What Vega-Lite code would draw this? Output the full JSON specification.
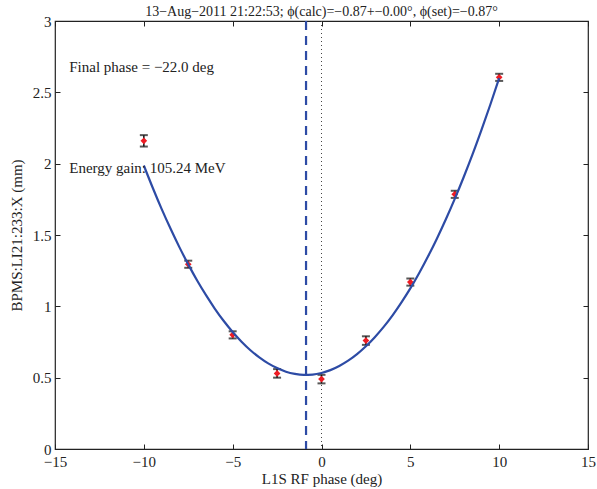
{
  "$schema": "https://vega.github.io/schema/vega-lite/v6.json",
  "width": 533,
  "height": 428,
  "autosize": "none",
  "padding": {"left": 55, "top": 21, "right": 9, "bottom": 40},
  "background": "white",
  "title": {"text": "13−Aug−2011 21:22:53; ϕ(calc)=−0.87+−0.00°, ϕ(set)=−0.87°", "font": "Liberation Serif", "fontSize": 14, "fontWeight": "normal", "color": "#222", "offset": -19, "anchor": "middle", "baseline": "bottom"},
  "config": {
    "view": {"stroke": "#222", "strokeWidth": 1.2},
    "axis": {"grid": false, "domain": false, "tickColor": "#222", "tickSize": -5, "labelFont": "Liberation Serif", "labelFontSize": 15, "labelColor": "#222", "titleFont": "Liberation Serif", "titleFontSize": 15, "titleFontWeight": "normal", "titleColor": "#222"}
  },
  "datasets": {
    "pts": [
      {"phase": -10, "x": 2.16, "lo": 2.12, "hi": 2.2},
      {"phase": -7.5, "x": 1.295, "lo": 1.27, "hi": 1.32},
      {"phase": -5, "x": 0.8, "lo": 0.775, "hi": 0.825},
      {"phase": -2.5, "x": 0.53, "lo": 0.5, "hi": 0.56},
      {"phase": 0, "x": 0.49, "lo": 0.46, "hi": 0.52},
      {"phase": 2.5, "x": 0.76, "lo": 0.73, "hi": 0.79},
      {"phase": 5, "x": 1.17, "lo": 1.145, "hi": 1.195},
      {"phase": 7.5, "x": 1.785, "lo": 1.76, "hi": 1.81},
      {"phase": 10, "x": 2.605, "lo": 2.58, "hi": 2.63}
    ],
    "fit": [
      {"phase": -10, "x": 1.987}, {"phase": -9.5, "x": 1.831}, {"phase": -9, "x": 1.683}, {"phase": -8.5, "x": 1.545},
      {"phase": -8, "x": 1.415}, {"phase": -7.5, "x": 1.294}, {"phase": -7, "x": 1.181}, {"phase": -6.5, "x": 1.078},
      {"phase": -6, "x": 0.983}, {"phase": -5.5, "x": 0.897}, {"phase": -5, "x": 0.82}, {"phase": -4.5, "x": 0.752},
      {"phase": -4, "x": 0.692}, {"phase": -3.5, "x": 0.642}, {"phase": -3, "x": 0.6}, {"phase": -2.5, "x": 0.567},
      {"phase": -2, "x": 0.542}, {"phase": -1.5, "x": 0.527}, {"phase": -1, "x": 0.52}, {"phase": -0.5, "x": 0.522},
      {"phase": 0, "x": 0.533}, {"phase": 0.5, "x": 0.553}, {"phase": 1, "x": 0.582}, {"phase": 1.5, "x": 0.619},
      {"phase": 2, "x": 0.665}, {"phase": 2.5, "x": 0.72}, {"phase": 3, "x": 0.784}, {"phase": 3.5, "x": 0.856},
      {"phase": 4, "x": 0.937}, {"phase": 4.5, "x": 1.028}, {"phase": 5, "x": 1.126}, {"phase": 5.5, "x": 1.234},
      {"phase": 6, "x": 1.351}, {"phase": 6.5, "x": 1.476}, {"phase": 7, "x": 1.61}, {"phase": 7.5, "x": 1.753},
      {"phase": 8, "x": 1.905}, {"phase": 8.5, "x": 2.065}, {"phase": 9, "x": 2.235}, {"phase": 9.5, "x": 2.413},
      {"phase": 10, "x": 2.6}
    ],
    "notes": [
      {"phase": -14.2, "x": 2.68, "label": "Final phase = −22.0 deg"},
      {"phase": -14.2, "x": 1.97, "label": "Energy gain: 105.24 MeV"}
    ]
  },
  "layer": [
    {
      "data": {"name": "pts"},
      "mark": {"type": "point", "opacity": 0},
      "encoding": {
        "x": {"field": "phase", "type": "quantitative", "scale": {"domain": [-15, 15], "nice": false}, "axis": {"orient": "top", "labels": false, "title": null, "values": [-15, -10, -5, 0, 5, 10, 15]}},
        "y": {"field": "x", "type": "quantitative", "scale": {"domain": [0, 3], "nice": false}, "axis": {"orient": "right", "labels": false, "title": null, "values": [0, 0.5, 1, 1.5, 2, 2.5, 3]}}
      }
    },
    {
      "data": {"name": "pts"},
      "mark": {"type": "point", "opacity": 0},
      "encoding": {
        "x": {"field": "phase", "type": "quantitative", "axis": {"orient": "bottom", "title": "L1S RF phase (deg)", "values": [-15, -10, -5, 0, 5, 10, 15], "labelExpr": "replace(toString(datum.value), '-', '−')", "labelPadding": 10, "titlePadding": 2, "labelFlush": false}},
        "y": {"field": "x", "type": "quantitative", "axis": {"orient": "left", "title": "BPMS:LI21:233:X (mm)", "values": [0, 0.5, 1, 1.5, 2, 2.5, 3], "labelExpr": "toString(datum.value)", "labelPadding": 9, "titlePadding": 8, "labelFlush": false}}
      }
    },
    {
      "data": {"values": [{"v": 0}]},
      "mark": {"type": "rule", "color": "#444", "strokeDash": [1, 3], "strokeWidth": 1},
      "encoding": {"x": {"datum": 0, "type": "quantitative", "axis": null}}
    },
    {
      "data": {"values": [{"v": -0.87}]},
      "mark": {"type": "rule", "color": "#2d4ba5", "strokeDash": [9, 6], "strokeWidth": 2.2},
      "encoding": {"x": {"datum": -0.87, "type": "quantitative", "axis": null}}
    },
    {
      "data": {"name": "pts"},
      "mark": {"type": "rule", "color": "#111", "strokeWidth": 1.5},
      "encoding": {"x": {"field": "phase", "type": "quantitative", "axis": null}, "y": {"field": "lo", "type": "quantitative", "axis": null}, "y2": {"field": "hi"}}
    },
    {
      "data": {"name": "pts"},
      "mark": {"type": "tick", "orient": "horizontal", "color": "#111", "size": 8, "thickness": 2},
      "encoding": {"x": {"field": "phase", "type": "quantitative", "axis": null}, "y": {"field": "lo", "type": "quantitative", "axis": null}}
    },
    {
      "data": {"name": "pts"},
      "mark": {"type": "tick", "orient": "horizontal", "color": "#111", "size": 8, "thickness": 2},
      "encoding": {"x": {"field": "phase", "type": "quantitative", "axis": null}, "y": {"field": "hi", "type": "quantitative", "axis": null}}
    },
    {
      "data": {"name": "pts"},
      "mark": {"type": "point", "shape": "diamond", "filled": true, "color": "#ee1c24", "size": 45, "opacity": 1},
      "encoding": {"x": {"field": "phase", "type": "quantitative", "axis": null}, "y": {"field": "x", "type": "quantitative", "axis": null}}
    },
    {
      "data": {"name": "fit"},
      "mark": {"type": "line", "color": "#2d4ba5", "strokeWidth": 2.2, "interpolate": "monotone"},
      "encoding": {"x": {"field": "phase", "type": "quantitative", "axis": null}, "y": {"field": "x", "type": "quantitative", "axis": null}}
    },
    {
      "data": {"name": "notes"},
      "mark": {"type": "text", "align": "left", "baseline": "middle", "font": "Liberation Serif", "fontSize": 15, "color": "#222"},
      "encoding": {"x": {"field": "phase", "type": "quantitative", "axis": null}, "y": {"field": "x", "type": "quantitative", "axis": null}, "text": {"field": "label"}}
    }
  ]
}
